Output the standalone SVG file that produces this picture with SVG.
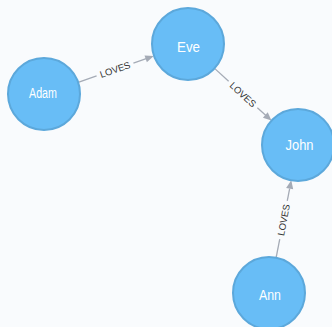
<svg xmlns="http://www.w3.org/2000/svg" width="332" height="327" viewBox="0 0 332 327">
<style>
.node circle{fill:#68BDF6;stroke:#5CA8DB;stroke-width:2}
.node text{fill:#FFFFFF;font-family:"Liberation Sans",Arial,sans-serif;font-size:14px;text-anchor:middle}
.rel line{stroke:#A5ABB6;stroke-width:1.3}
.rel polygon{fill:#A5ABB6}
.rel text{fill:#333333;font-family:"Liberation Sans",Arial,sans-serif;font-size:9.5px;text-anchor:middle;dominant-baseline:central}
</style>
<rect width="332" height="327" fill="#F9FBFD"/>
<g id="connectors">
<g class="rel" transform="translate(115,69.5) rotate(-19.15)">
<line x1="-39" y1="0" x2="-19.5" y2="0"/><line x1="19.5" y1="0" x2="33" y2="0"/>
<polygon points="41,0 32.5,-3.6 32.5,3.6"/>
<text x="0" y="0">LOVES</text>
</g>
<g class="rel" transform="translate(243,94.5) rotate(42.56)">
<line x1="-38.6" y1="0" x2="-19.5" y2="0"/><line x1="19.5" y1="0" x2="31.5" y2="0"/>
<polygon points="38.6,0 30.3,-3.6 30.3,3.6"/>
<text x="0" y="0">LOVES</text>
</g>
<g class="rel" transform="translate(283.5,220) rotate(-78.91)">
<line x1="-39.4" y1="0" x2="-19.5" y2="0"/><line x1="19.5" y1="0" x2="32" y2="0"/>
<polygon points="40.4,0 32,-3.6 32,3.6"/>
<text x="0" y="0">LOVES</text>
</g>
</g>
<g id="node-adam" class="node"><circle cx="44" cy="94" r="36"/><text x="43" y="98" textLength="28" lengthAdjust="spacingAndGlyphs">Adam</text></g>
<g id="node-eve" class="node"><circle cx="188" cy="44" r="36"/><text x="188.5" y="51.5" textLength="23" lengthAdjust="spacingAndGlyphs">Eve</text></g>
<g id="node-john" class="node"><circle cx="298" cy="145" r="36"/><text x="299.5" y="150" textLength="28" lengthAdjust="spacingAndGlyphs">John</text></g>
<g id="node-ann" class="node"><circle cx="269" cy="293" r="36"/><text x="270" y="300" textLength="22" lengthAdjust="spacingAndGlyphs">Ann</text></g>
</svg>
